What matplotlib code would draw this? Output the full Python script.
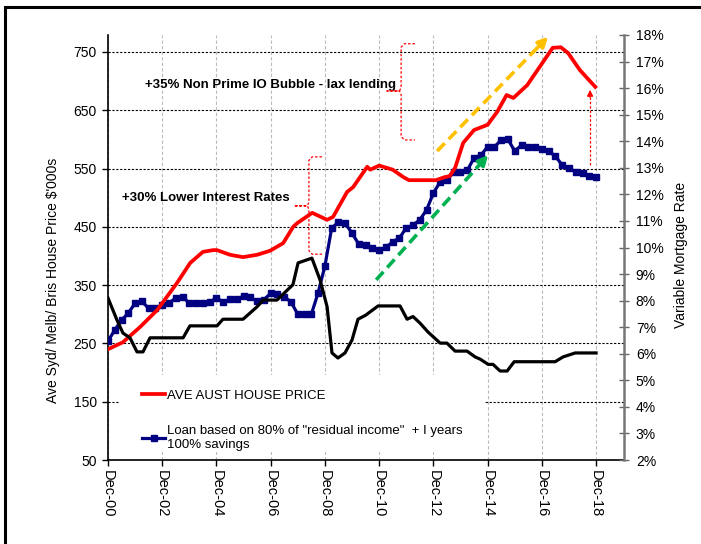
import matplotlib as mpl
mpl.use('Agg')
import matplotlib.pyplot as plt
from matplotlib.patches import Rectangle
import numpy as np

plt.rcParams['font.family'] = ['Liberation Sans', 'DejaVu Sans']

# x is years since Dec-00
tick_pos = list(range(0, 19, 2))
tick_labels = ['Dec-00', 'Dec-02', 'Dec-04', 'Dec-06', 'Dec-08',
               'Dec-10', 'Dec-12', 'Dec-14', 'Dec-16', 'Dec-18']

# AVE AUST HOUSE PRICE ($000s)
house_t = [0, 0.55, 1.18, 1.81, 2.55, 3.03, 3.5, 3.87, 4.02, 4.5, 4.98, 5.5,
           5.98, 6.46, 6.83, 6.97, 7.53, 8.08, 8.3, 8.82, 9.04, 9.56, 9.67,
           10.0, 10.5, 10.9, 11.1, 12.1, 12.4, 12.6, 12.8, 13.1, 13.5, 14.0,
           14.35, 14.7, 14.95, 15.46, 16.4, 16.7, 16.97, 17.4, 17.97]
house_price = [240, 252, 278, 307, 354, 388, 407, 410, 410, 402, 398, 402,
               409, 422, 450, 456, 474, 462, 467, 510, 518, 553, 548,
               555, 548, 535, 530, 530, 535, 537, 551, 594, 616, 625,
               647, 676, 671, 693, 757, 758, 748, 719, 690]

# Loan based on residual income, quarterly from Dec-00
loan = [254, 273, 290, 302, 319, 322, 310, 310, 316, 319, 328, 330,
        319, 320, 320, 321, 328, 321, 326, 326, 331, 329, 322, 325,
        336, 334, 330, 321, 300, 300, 300, 337, 383, 448, 458, 456,
        439, 420, 419, 414, 410, 415, 424, 431, 448, 453, 462, 479,
        508, 527, 530, 544, 544, 547, 568, 573, 587, 587, 599, 600,
        580, 590, 587, 587, 584, 580, 571, 556, 551, 544, 542, 537, 535]
loan_t = np.arange(len(loan)) * 0.25

# Variable mortgage rate (%)
rate_t = [0, 0.33, 0.55, 0.81, 1.07, 1.29, 1.55, 2.77, 3.02, 4.02, 4.24,
          4.98, 5.5, 5.72, 6.23, 6.82, 7.01, 7.52, 7.82, 8.08, 8.26, 8.48,
          8.74, 9.0, 9.22, 9.5, 9.96, 10.77, 11.03, 11.25, 11.51, 11.8,
          12.25, 12.5, 12.8, 13.24, 13.54, 13.72, 14.02, 14.2, 14.46,
          14.72, 14.98, 16.49, 16.78, 17.23, 18.0]
rate = [8.1, 7.27, 6.78, 6.6, 6.07, 6.07, 6.6, 6.6, 7.05, 7.05, 7.3,
        7.3, 7.77, 8.02, 8.02, 8.6, 9.42, 9.6, 8.78, 7.77, 6.03, 5.84,
        6.03, 6.52, 7.3, 7.45, 7.8, 7.8, 7.3, 7.4, 7.15, 6.82,
        6.4, 6.4, 6.1, 6.1, 5.88, 5.8, 5.6, 5.6, 5.35,
        5.35, 5.7, 5.7, 5.88, 6.03, 6.03]

fig = plt.figure(figsize=(7.01, 5.44), dpi=100)
ax = fig.add_axes([108/701, 1 - 460/544, 516/701, 425/544])
ax2 = ax.twinx()

ax.set_xlim(0, 19.03)
ax.set_ylim(50, 779)
ax2.set_ylim(2, 18)

ax.set_axisbelow(True)
ax.set_yticks(range(50, 751, 100))
ax.set_xticks(tick_pos)
ax.set_xticklabels(tick_labels, rotation=-90)
ax.yaxis.grid(True, color='black', linestyle=(0, (2, 1.5)), lw=0.8)
ax.xaxis.grid(True, color='#bbbbbb', linestyle=(0, (3, 2)), lw=0.8)
ax.tick_params(axis='both', labelsize=10, direction='out', length=4, width=1)
ax.tick_params(axis='y', pad=4)
ax.tick_params(axis='x', pad=3, labelsize=10.5)
for s in ('top', 'right'):
    ax.spines[s].set_visible(False)
ax.spines['left'].set_linewidth(1.2)
ax.spines['bottom'].set_linewidth(1.2)

ax2.set_yticks(range(2, 19))
ax2.set_yticklabels([f'{v}%' for v in range(2, 19)])
ax2.tick_params(axis='y', labelsize=10, direction='inout', length=7,
                width=1, color='#666666', pad=5)
for s in ('top', 'left', 'bottom'):
    ax2.spines[s].set_visible(False)
ax2.spines['right'].set_color('#777777')
ax2.spines['right'].set_linewidth(1.8)

# white box behind legend
ax.add_patch(Rectangle((0.023, 0.019), 0.708, 0.181, transform=ax.transAxes,
                       facecolor='white', edgecolor='none', zorder=1))

ax.plot(house_t, house_price, color='#ff0000', lw=2.7, zorder=4,
        label='AVE AUST HOUSE PRICE')
ax.plot(loan_t, loan, color='#000080', lw=2.3, marker='s', ms=4.8, zorder=3,
        label='Loan based on 80% of "residual income"  + I years\n100% savings')
ax2.plot(rate_t, rate, color='black', lw=2.3)

ax.legend(loc='upper left', bbox_to_anchor=(0.066, 0.165), frameon=False,
          fontsize=9.5, handlelength=1.75, handletextpad=0.15,
          labelspacing=1.75, borderpad=0, borderaxespad=0)

ax.text(1.36, 693, '+35% Non Prime IO Bubble - lax lending', fontsize=9.5,
        fontweight='bold', ha='left', va='center', zorder=6)
ax.text(0.52, 500, '+30% Lower Interest Rates', fontsize=9.5,
        fontweight='bold', ha='left', va='center', zorder=6)


def brace(x, nose, tail, y0, ymid, y1):
    r = 0.12
    xs = [tail, x + r, x, x, x - r / 2, nose, x - r / 2, x, x, x + r, tail]
    ys = [y0, y0, y0 - 6, ymid + 6, ymid, ymid, ymid, ymid - 6, y1 + 6, y1, y1]
    ax.plot(xs, ys, color='#ff0000', lw=0.9, linestyle=(0, (2, 1.5)), zorder=6)


brace(7.41, 6.86, 7.89, 570, 486, 403)
brace(10.81, 10.29, 11.32, 764, 683, 599)


def dashed_arrow(p0, p1, color, lw, dash, head):
    p0 = np.array(p0, dtype=float)
    p1 = np.array(p1, dtype=float)
    mid = p0 + (p1 - p0) * 0.9
    ax.plot([p0[0], mid[0]], [p0[1], mid[1]], color=color, lw=lw,
            linestyle=dash, zorder=6, solid_capstyle='butt')
    ax.annotate('', xy=tuple(p1), xytext=tuple(mid),
                arrowprops=dict(arrowstyle='-|>', color=color, lw=lw,
                                mutation_scale=head, shrinkA=0, shrinkB=0),
                zorder=6)


dashed_arrow((12.14, 580), (16.23, 776), '#ffc000', 2.6, (0, (3, 1.6)), 14)
dashed_arrow((9.89, 359), (14.02, 573), '#00b050', 2.6, (0, (3, 1.6)), 14)
dashed_arrow((17.78, 556), (17.78, 685), '#ff0000', 0.9, (0, (2, 1.5)), 9)

fig.text(53/701, 1 - 280/544, "Ave Syd/ Melb/ Bris House Price $'000s",
         rotation=90, ha='center', va='center', fontsize=10)
fig.text(681/701, 1 - 255/544, 'Variable Mortgage Rate',
         rotation=90, ha='center', va='center', fontsize=10)

# outer frame
fig.patches.append(Rectangle((5/701, -0.05), 1.2, 1.05 - 7/544,
                             transform=fig.transFigure, fill=False,
                             edgecolor='black', lw=2.2))

fig.savefig('out.png', dpi=100)
plt.close()
